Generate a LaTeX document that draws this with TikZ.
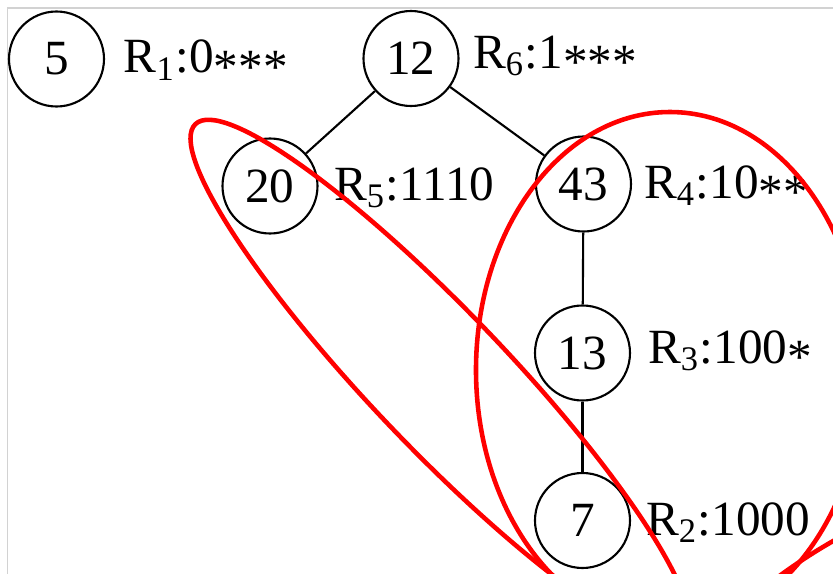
\documentclass[tikz,border=0pt]{standalone}
\usepackage{fontspec}
\setmainfont{Liberation Serif}
\newcommand{\lowast}{\raisebox{-0.22em}{*}}

\begin{document}
\begin{tikzpicture}[node/.style={draw, circle, minimum size=9.5mm, inner sep=0pt}, line width=0.6pt, font=\fontsize{14}{17}\selectfont]
        \tikzstyle{group}=[draw=red, line width=1.3pt]
        \clip (0,0) rectangle (8.33,-5.74);
        \draw[gray!35, line width=0.5pt] (0.075,-5.74) -- (0.075,-0.08) -- (8.33,-0.08);

        \node[node] (5)  at (0.565, -0.59) {5};
        \node[node] (12) at (4.11,  -0.585) {12};
        \node[node] (20) at (2.70,  -1.86) {20};
        \node[node] (43) at (5.835, -1.84) {43};
        \node[node] (13) at (5.825, -3.53) {13};
        \node[node] (7)  at (5.825, -5.205) {7};

        \draw (12) -- (20);
        \draw (12) -- (43);
        \draw (43) -- (13);
        \draw (13) -- (7);

        \node[anchor=base west, inner sep=0pt] (r1) at (1.227, -0.727) {R\textsubscript{1}:0\lowast\lowast\lowast};
        \node[anchor=base west, inner sep=0pt] (r6) at (4.72,  -0.68)  {R\textsubscript{6}:1\lowast\lowast\lowast};
        \node[anchor=base west, inner sep=0pt] (r5) at (3.33,  -2.00)  {R\textsubscript{5}:1110};
        \node[anchor=base west, inner sep=0pt] (r4) at (6.43,  -1.98)  {R\textsubscript{4}:10\lowast\lowast};
        \node[anchor=base west, inner sep=0pt] (r3) at (6.47,  -3.63)  {R\textsubscript{3}:100\lowast};
        \node[anchor=base west, inner sep=0pt] (r2) at (6.45,  -5.35)  {R\textsubscript{2}:1000};

        \draw[group, rotate around={-46.3:(4.40,-3.80)}] (4.40,-3.80) ellipse (3.54 and 0.68);
        \draw[group] (6.70,-3.70) ellipse (1.94 and 2.58);
        \draw[group, rotate around={33:(8.28,-5.91)}] (8.28,-5.91) ellipse (1.5 and 0.4);
    \end{tikzpicture}
\end{document}
